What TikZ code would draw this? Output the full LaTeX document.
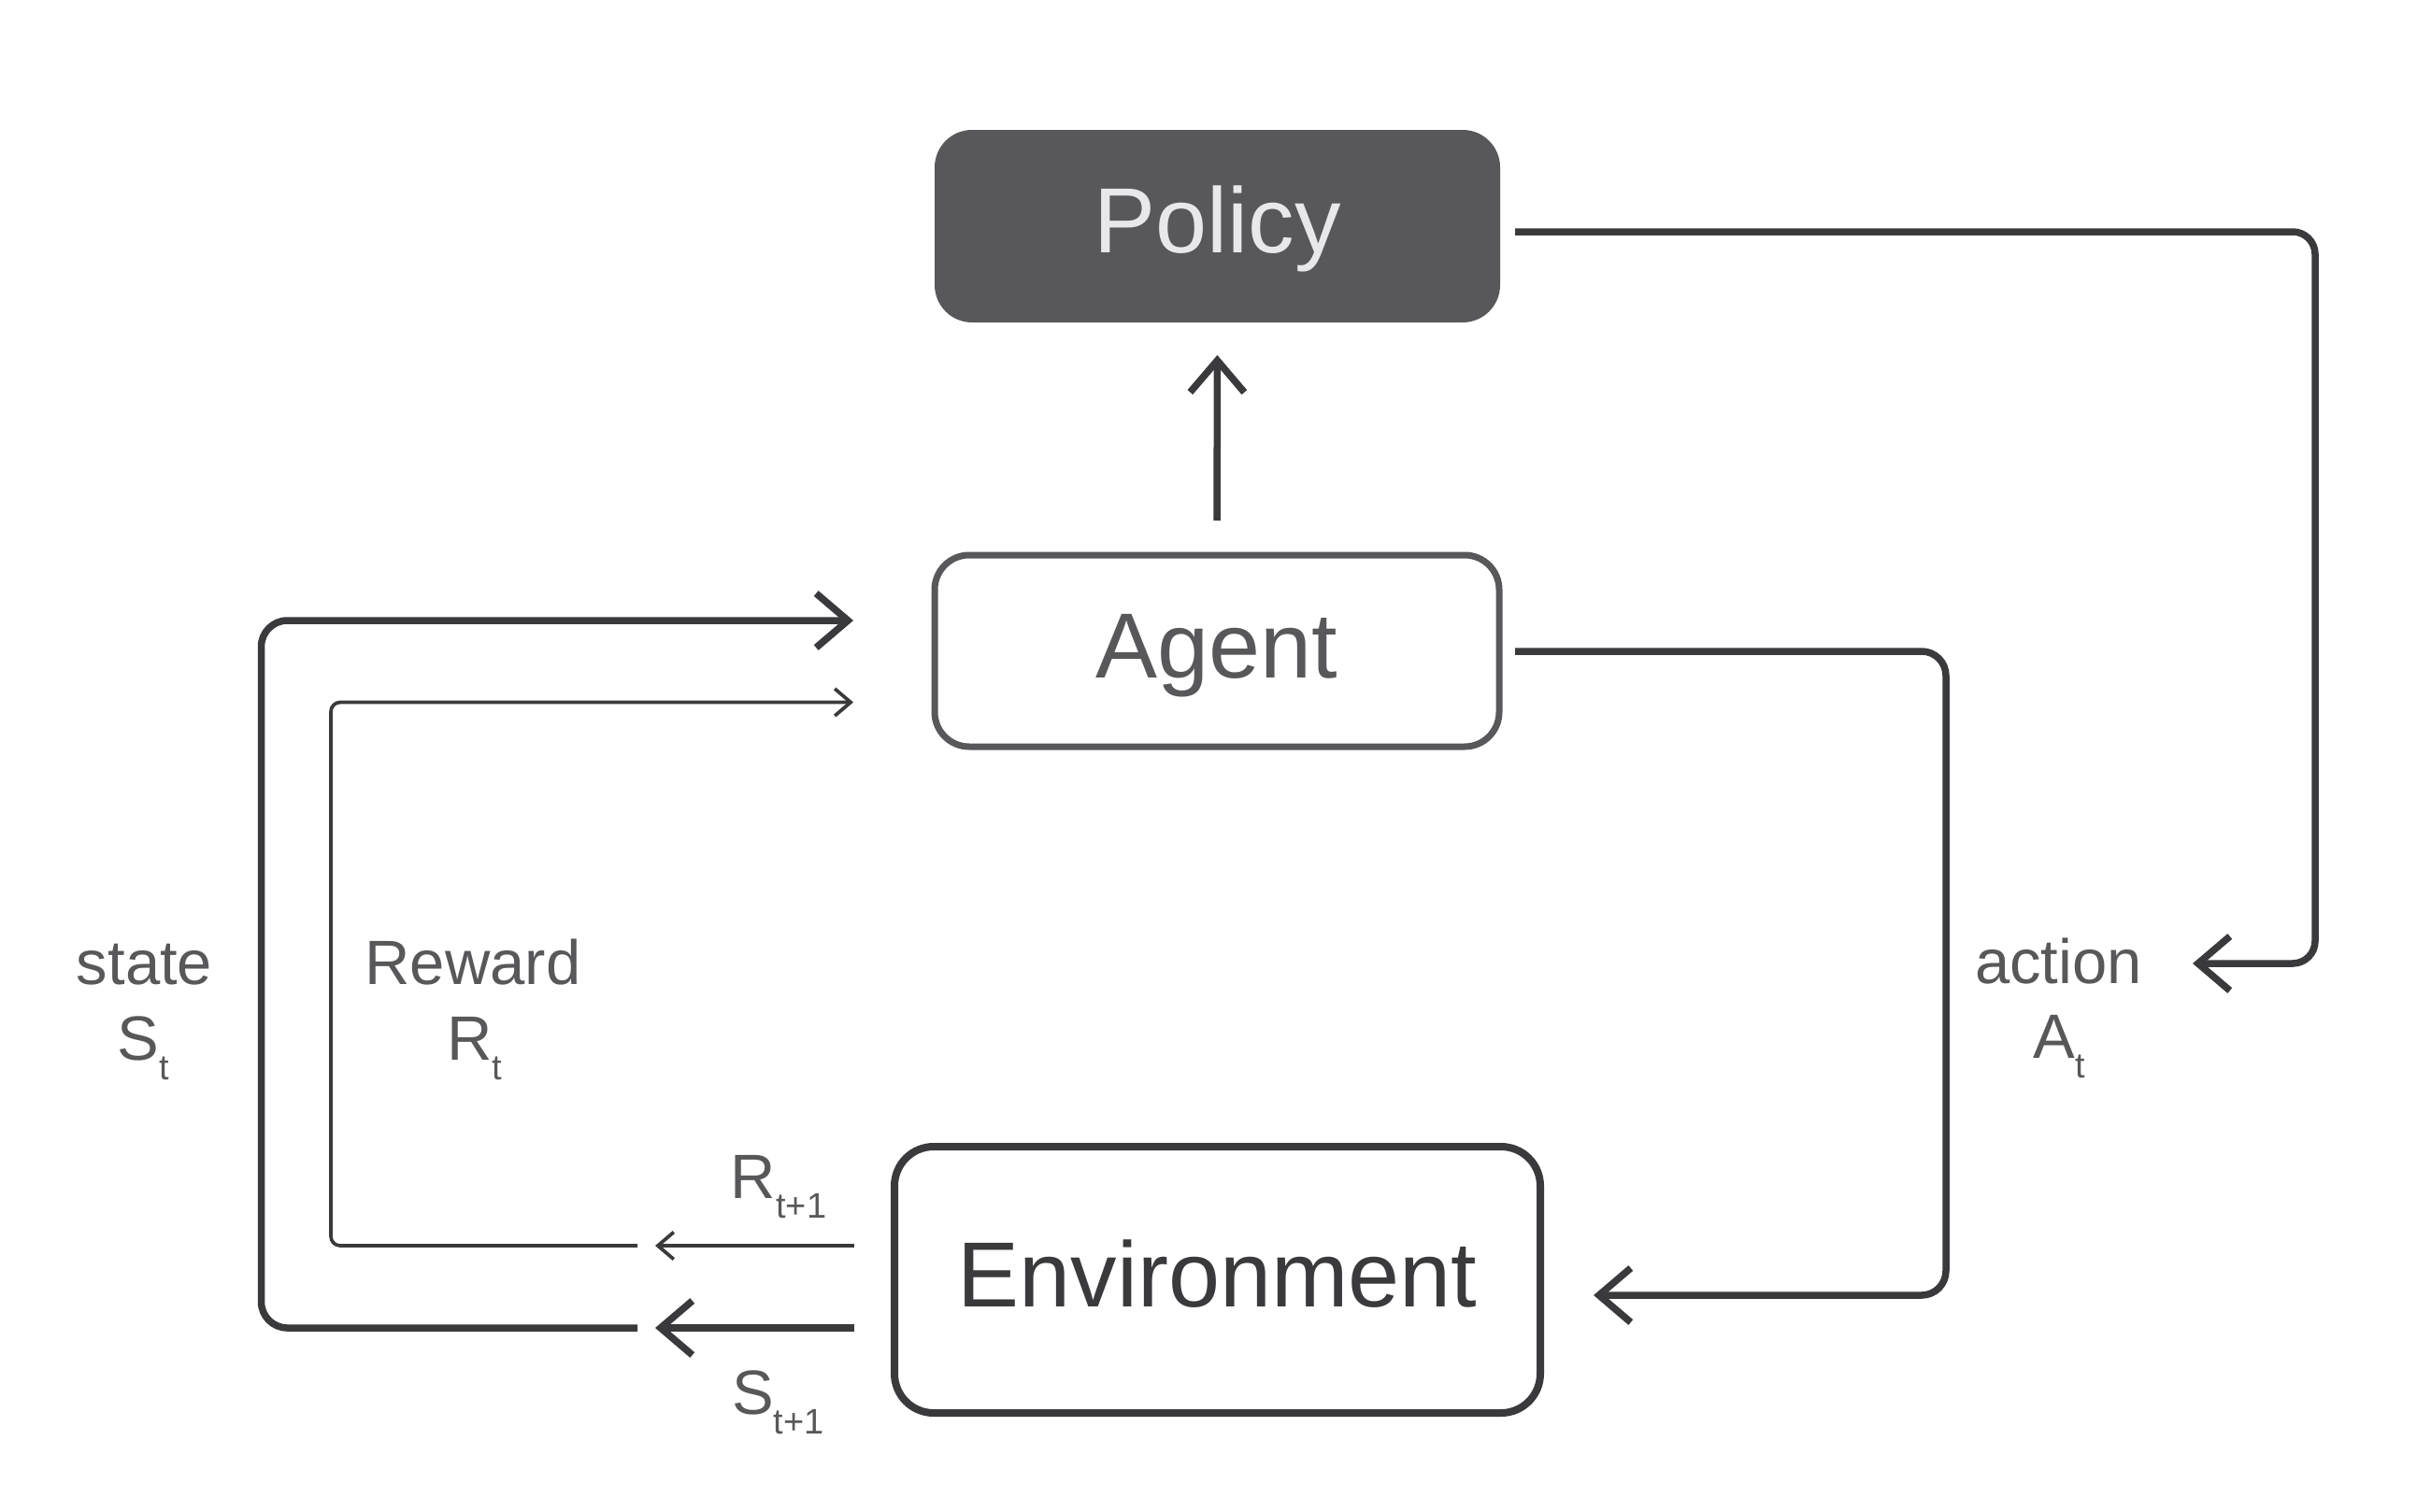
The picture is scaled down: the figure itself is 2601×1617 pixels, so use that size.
\documentclass[tikz,border=0pt]{standalone}
\usepackage{fontspec}
\setmainfont{Liberation Sans}
\usetikzlibrary{arrows.meta}
\definecolor{linec}{HTML}{3A3A3C}
\definecolor{midgray}{HTML}{58585A}
\definecolor{policytxt}{HTML}{E8E8EA}
\newcommand{\sbs}[1]{\raisebox{-21pt}{\fontsize{38}{38}\selectfont #1}}
\begin{document}
\begin{tikzpicture}[x=1pt,y=-1pt,
  box/.style={rectangle, inner sep=0pt, outer sep=0pt, text height=79pt, text depth=22pt, font=\fontsize{99}{110}\selectfont},
  conn/.style={draw=linec, line width=7.5pt, -{Straight Barb[sharp, length=34pt, width=58pt]}},
  thinconn/.style={draw=linec, line width=3.7pt, -{Straight Barb[sharp, length=17pt, width=29pt]}},
  plainline/.style={draw=linec, line width=7.5pt},
  thinline/.style={draw=linec, line width=3.7pt},
  lbl/.style={anchor=base, inner sep=0pt, text=midgray, font=\fontsize{67}{80}\selectfont},
]
\useasboundingbox (0,0) rectangle (2601,1617);

\node[box, fill=midgray, text=policytxt, rounded corners=40pt, minimum width=605pt, minimum height=206pt] (policy) at (1302.5,242) {Policy};
\node[box, draw=midgray, line width=7pt, text=midgray, rounded corners=37pt, minimum width=604pt, minimum height=205pt] (agent) at (1302,696.5) {Agent};
\node[box, draw=linec, line width=8pt, text=linec, rounded corners=42pt, minimum width=691pt, minimum height=285pt] (env) at (1302.5,1369.5) {Environment};

% agent -> policy
\draw[conn, shorten <=37pt, shorten >=35pt] (agent.north) -- (policy.south);

% policy -> action
\coordinate (actip) at (2346,1031);
\draw[conn, rounded corners=24pt] ([shift={(16,6)}]policy.east) -- (2477,248) |- (actip);

% agent -> environment
\draw[conn, rounded corners=26pt] ([shift={(17,0.5)}]agent.east) -- (2082,697) |- ([shift={(57,16.5)}]env.east);

% state loop
\coordinate (stip) at (701,1421);
\coordinate (sstart) at (682,1421);
\draw[conn] ([shift={(-43,51.5)}]env.west) -- (stip);
\draw[conn, rounded corners=28pt] (sstart) -- (279.5,1421) |- ([shift={(-87,-32.5)}]agent.west);

% reward loop
\coordinate (rtip) at (701,1333);
\coordinate (rstart) at (682,1333);
\draw[thinconn] ([shift={(-43,-36.5)}]env.west) -- (rtip);
\draw[thinconn, rounded corners=10pt] (rstart) -- (354,1333) |- ([shift={(-87,55)}]agent.west);

% labels
\node[lbl] (statelbl) at (154.5,1053) {state};
\node[lbl] (statesym) at (153.5,1134) {S\sbs{t}};
\node[lbl] (rewardlbl) at (506,1053) {Reward};
\node[lbl] (rewardsym) at (507.5,1134) {R\sbs{t}};
\node[lbl] (actionlbl) at (2202.5,1052) {action};
\node[lbl] (actionsym) at (2203.5,1132) {A\sbs{t}};
\node[lbl] (rnext) at (833,1282) {R\sbs{t+1}};
\node[lbl] (snext) at (832.5,1513) {S\sbs{t+1}};
\end{tikzpicture}
\end{document}
